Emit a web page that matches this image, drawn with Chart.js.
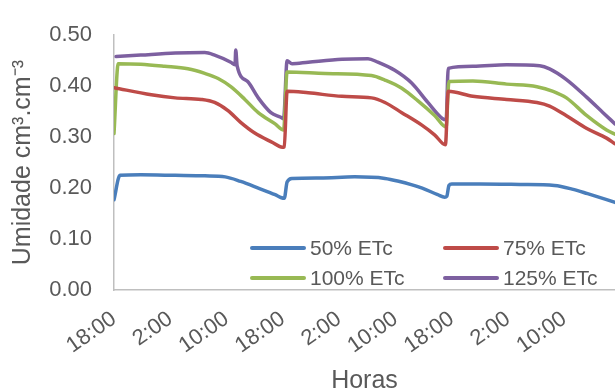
<!DOCTYPE html>
<html>
<head>
<meta charset="utf-8">
<script src="https://cdn.jsdelivr.net/npm/chart.js@4/dist/chart.umd.min.js"></script>
<style>
  html, body { margin: 0; padding: 0; background: #ffffff; }
  canvas { display: block; }
</style>
</head>
<body>
<canvas id="chart" width="615" height="392" style="width:615px;height:392px"></canvas>
<script>
// Soil moisture (cm3.cm-3) over time; hours counted from 18:00 of the first day.
const seriesLabels = ['50% ETc', '75% ETc', '100% ETc', '125% ETc'];

const hours50 = [0, 0.85, 3.8, 8.7, 12.9, 15.8, 18.0, 20.5, 22.9, 23.8, 24.2, 24.6, 25.3, 29.3, 34.2, 38.5, 40.3, 43.8, 46.0, 47.0, 47.3, 47.6, 48.0, 52.0, 57.7, 62.6, 65.1, 67.3, 71.2];
const values50 = [0.177, 0.225, 0.226, 0.225, 0.224, 0.222, 0.213, 0.200, 0.187, 0.181, 0.180, 0.212, 0.219, 0.220, 0.222, 0.219, 0.214, 0.200, 0.187, 0.182, 0.184, 0.205, 0.208, 0.208, 0.207, 0.205, 0.198, 0.189, 0.172];

const hours75 = [0, 5.3, 8.7, 12.4, 14.3, 16.2, 18.0, 20.0, 22.6, 23.9, 24.2, 24.6, 27.6, 32.4, 36.6, 38.5, 40.9, 43.8, 45.6, 47.1, 47.5, 51.0, 55.8, 60.1, 61.9, 64.3, 67.2, 70.0, 71.2];
const values75 = [0.397, 0.383, 0.377, 0.374, 0.368, 0.352, 0.329, 0.308, 0.289, 0.280, 0.281, 0.390, 0.387, 0.380, 0.377, 0.368, 0.348, 0.323, 0.304, 0.285, 0.390, 0.380, 0.374, 0.368, 0.361, 0.342, 0.317, 0.298, 0.287];

const hours100 = [0, 0.6, 3.8, 7.2, 10.5, 12.9, 14.8, 16.6, 18.6, 20.5, 22.9, 24.1, 24.6, 30.0, 36.6, 38.5, 40.9, 43.2, 45.6, 47.2, 47.6, 51.0, 55.8, 60.1, 62.4, 64.3, 67.2, 70.0, 71.2];
const values100 = [0.307, 0.444, 0.443, 0.439, 0.434, 0.425, 0.415, 0.399, 0.374, 0.348, 0.326, 0.314, 0.428, 0.425, 0.421, 0.412, 0.396, 0.371, 0.342, 0.320, 0.409, 0.410, 0.404, 0.399, 0.390, 0.377, 0.342, 0.314, 0.306];

const hours125 = [0.3, 3.8, 8.7, 12.9, 14.3, 16.6, 17.2, 17.3, 17.5, 19.0, 20.5, 22.3, 23.7, 24.1, 24.6, 25.3, 27.6, 32.4, 36.1, 37.5, 39.9, 42.3, 44.6, 46.7, 47.2, 47.5, 51.0, 55.8, 60.5, 61.9, 64.3, 67.2, 69.5, 71.2];
const values125 = [0.458, 0.461, 0.465, 0.466, 0.461, 0.447, 0.442, 0.471, 0.440, 0.409, 0.377, 0.348, 0.339, 0.336, 0.450, 0.444, 0.447, 0.453, 0.454, 0.447, 0.431, 0.406, 0.368, 0.336, 0.334, 0.435, 0.439, 0.442, 0.440, 0.434, 0.413, 0.378, 0.348, 0.326];

const seriesColors = ['#4a7ebb', '#be4b48', '#98b954', '#7d60a0'];
const hourStep = 8;       // label every 8 hours
const startClock = 18;    // first reading at 18:00
const lastHour = 71.2;

const pairs = (h, v) => h.map((x, i) => ({ x: x, y: v[i] }));
const seriesData = [pairs(hours50, values50), pairs(hours75, values75), pairs(hours100, values100), pairs(hours125, values125)];

const textColor = '#595959';
const fontFamily = '"Liberation Sans", Arial, sans-serif';

// Two-column legend drawn inside the plot area
const legendPlugin = {
  id: 'etcLegend',
  afterDraw(chart) {
    const ctx = chart.ctx;
    const slots = [[252, 248], [445, 248], [252, 278], [445, 278]];
    ctx.save();
    ctx.font = '21px ' + fontFamily;
    ctx.textBaseline = 'middle';
    ctx.textAlign = 'left';
    chart.data.datasets.forEach((ds, i) => {
      const [x, y] = slots[i];
      ctx.strokeStyle = ds.borderColor;
      ctx.lineWidth = 4;
      ctx.lineCap = 'round';
      ctx.beginPath();
      ctx.moveTo(x, y);
      ctx.lineTo(x + 52, y);
      ctx.stroke();
      ctx.fillStyle = textColor;
      ctx.fillText(ds.label, x + 58, y + 1);
    });
    ctx.restore();
  }
};

new Chart(document.getElementById('chart'), {
  type: 'line',
  data: {
    datasets: seriesLabels.map((label, i) => ({
      label: label,
      data: seriesData[i],
      borderColor: seriesColors[i],
      backgroundColor: seriesColors[i],
      borderWidth: 3.5,
      pointRadius: 0,
      cubicInterpolationMode: 'monotone',
      borderJoinStyle: 'round',
      borderCapStyle: 'round',
      fill: false
    }))
  },
  options: {
    responsive: false,
    animation: false,
    devicePixelRatio: 1,
    layout: { padding: { top: 27, right: 0, bottom: 0, left: 0 } },
    plugins: {
      legend: { display: false },
      tooltip: { enabled: false }
    },
    scales: {
      x: {
        type: 'linear',
        min: 0,
        max: lastHour,
        grid: { display: false, drawTicks: false },
        border: { display: true, color: '#bfbfbf', width: 1.5 },
        ticks: {
          stepSize: hourStep,
          minRotation: 35,
          maxRotation: 35,
          padding: 16,
          color: textColor,
          font: { size: 22, family: fontFamily },
          callback: (v) => ((startClock + v) % 24) + ':00'
        },
        afterBuildTicks: (scale) => {
          scale.ticks = scale.ticks.filter(t => Math.abs(t.value % hourStep) < 1e-6);
        },
        afterFit: (scale) => { scale.height = 102; },
        title: {
          display: true,
          text: 'Horas',
          color: textColor,
          font: { size: 25, family: fontFamily, lineHeight: 0.9 },
          padding: { top: 0, bottom: 0 }
        }
      },
      y: {
        min: 0,
        max: 0.5,
        grid: { display: false, drawTicks: false },
        border: { display: true, color: '#bfbfbf', width: 1.5 },
        ticks: {
          stepSize: 0.1,
          padding: 22,
          color: textColor,
          font: { size: 22, family: fontFamily },
          callback: (v) => Number(v).toFixed(2)
        },
        afterFit: (scale) => { scale.width = 114; },
        title: {
          display: true,
          text: 'Umidade cm³.cm⁻³',
          color: textColor,
          font: { size: 25, family: fontFamily },
          padding: { top: 8, bottom: 0 }
        }
      }
    }
  },
  plugins: [legendPlugin]
});
</script>
</body>
</html>
